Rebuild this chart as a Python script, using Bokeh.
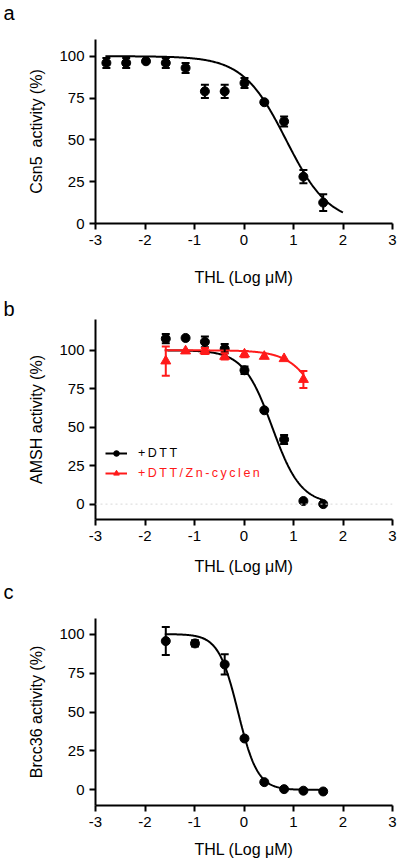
import numpy as np
from bokeh.plotting import figure
from bokeh.models import (FixedTicker, Whisker, TeeHead, ColumnDataSource, Span,
                          Legend, LegendItem, Range1d, Title)
from bokeh.layouts import column
from bokeh.embed import file_html
from bokeh.resources import INLINE

FONT = "Liberation Sans"
RED = "#ff1a1a"

# ---------------- data ----------------
x_ticks = [-3, -2, -1, 0, 1, 2, 3]
x_tick_labels = ["-3", "-2", "-1", "0", "1", "2", "3"]
y_ticks = [0, 25, 50, 75, 100]
x_label = "THL (Log μM)"

# Panel a : Csn5
a_x = [-2.78, -2.38, -1.98, -1.58, -1.18, -0.79, -0.39, 0.01, 0.41, 0.81, 1.20, 1.60]
a_y = [96, 96, 97, 96, 93, 79, 79, 84, 72.5, 61, 28, 12.5]
a_err = [3, 3, 0, 3, 3, 4, 4, 3, 0, 3, 4, 5]
# fitted 4-parameter logistic curve (top, bottom, logIC50, hill, x-from, x-to)
a_fit = [100, 0, 0.85, 1.0, -2.8, 2.0]

# Panel b : AMSH
b_dtt_x = [-1.58, -1.18, -0.79, -0.39, 0.01, 0.41, 0.81, 1.20, 1.60]
b_dtt_y = [107.5, 108, 105.5, 101, 87, 61, 42, 2, 0]
b_dtt_err = [3, 0, 3.5, 3, 2.5, 0, 3, 0, 0]
b_dtt_fit = [100, 0, 0.57, 1.5, -1.6, 1.6]

b_zn_x = [-1.58, -1.18, -0.79, -0.39, 0.01, 0.41, 0.81, 1.20]
b_zn_y = [93, 99.5, 99.5, 96, 97.5, 96, 94.5, 81]
b_zn_err = [9.5, 0, 2, 2, 2, 0, 0, 5.5]
b_zn_fit = [100, 0, 1.76, 1.29, -1.6, 1.2]

# Panel c : Brcc36
c_x = [-1.58, -0.99, -0.39, 0.01, 0.41, 0.81, 1.20, 1.60]
c_y = [95.5, 94, 80.5, 33, 5, 0.5, -0.5, -1]
c_err = [9, 2, 6.5, 0, 0, 0, 0, 0]
c_fit = [100, 0, -0.12, 2.2, -1.6, 1.6]


def logistic_curve(fit):
    top, bottom, logic50, hill, x0, x1 = fit
    xs = np.linspace(x0, x1, 300)
    ys = bottom + (top - bottom) / (1 + 10 ** ((xs - logic50) * hill))
    return xs, ys


def make_fig(height, btop, bbottom, yr, ylabel, letter, spacer, valign, xlab_standoff):
    p = figure(width=400, height=height, x_range=Range1d(-3, 3), y_range=Range1d(*yr),
               output_backend="svg", toolbar_location=None,
               min_border_left=95, min_border_right=8,
               min_border_top=btop, min_border_bottom=bbottom)
    p.title.text = ""
    # invisible spacer (closest to the frame) then the panel letter
    if spacer > 0:
        p.add_layout(Title(text=" ", text_font_size="1px", standoff=spacer), "above")
    p.add_layout(Title(text=letter, align="left", offset=-92, standoff=0,
                       vertical_align=valign, text_font=FONT, text_font_size="20px",
                       text_font_style="normal", text_color="black"), "above")
    p.outline_line_color = None
    p.grid.visible = False
    p.background_fill_color = "white"
    p.border_fill_color = "white"
    p.xaxis.ticker = FixedTicker(ticks=x_ticks)
    p.xaxis.major_label_overrides = {t: s for t, s in zip(x_ticks, x_tick_labels)}
    p.yaxis.ticker = FixedTicker(ticks=y_ticks)
    for ax in (p.xaxis[0], p.yaxis[0]):
        ax.axis_line_width = 2
        ax.axis_line_color = "black"
        ax.major_tick_line_width = 2
        ax.major_tick_line_color = "black"
        ax.major_tick_out = 6
        ax.major_tick_in = 0
        ax.minor_tick_line_color = None
        ax.major_label_text_font = FONT
        ax.major_label_text_font_size = "15px"
        ax.major_label_text_color = "black"
        ax.axis_label_text_font = FONT
        ax.axis_label_text_font_size = "16px"
        ax.axis_label_text_font_style = "normal"
        ax.axis_label_text_color = "black"
    p.xaxis.major_label_standoff = 5
    p.yaxis.major_label_standoff = 5
    p.xaxis.axis_label = x_label
    p.xaxis.axis_label_standoff = xlab_standoff
    p.yaxis.axis_label = ylabel
    p.yaxis.axis_label_standoff = 11
    return p


def add_series(p, xs, ys, errs, fit, color, marker):
    cx, cy = logistic_curve(fit)
    line = p.line(cx, cy, line_color=color, line_width=2)
    ex = [x for x, e in zip(xs, errs) if e > 0]
    ey = [y for y, e in zip(ys, errs) if e > 0]
    ee = [e for e in errs if e > 0]
    src = ColumnDataSource(dict(base=ex, upper=[y + e for y, e in zip(ey, ee)],
                                lower=[y - e for y, e in zip(ey, ee)]))
    w = Whisker(base="base", upper="upper", lower="lower", source=src,
                line_color=color, line_width=2,
                upper_head=TeeHead(size=8, line_width=2, line_color=color),
                lower_head=TeeHead(size=8, line_width=2, line_color=color))
    w.level = "glyph"
    p.add_layout(w)
    sc = p.scatter(xs, ys, marker=marker, size=9 if marker == "circle" else 10,
                   fill_color=color, line_color=color)
    return line, sc


# ---------------- panel a ----------------
pa = make_fig(290, 39, 67, (0, 110), "Csn5\u00a0 activity (%)", "a", 11, "top", 21)
add_series(pa, a_x, a_y, a_err, a_fit, "black", "circle")

# ---------------- panel b ----------------
pb = make_fig(289, 29, 60, (-10, 120), "AMSH activity (%)", "b", 0, "bottom", 14)
pb.add_layout(Span(location=0, dimension="width", line_color="#d8d8d8",
                   line_dash="2 3", line_width=1))
l1, s1 = add_series(pb, b_dtt_x, b_dtt_y, b_dtt_err, b_dtt_fit, "black", "circle")
l2, s2 = add_series(pb, b_zn_x, b_zn_y, b_zn_err, b_zn_fit, RED, "triangle")
for label, rends, col, loc in [("+\u2009D\u2009T\u2009T", [l1, s1], "black", (10, 59)),
                               ("+\u2009D\u2009T\u2009T\u2009/\u2009Z\u2009n\u2009-\u2009c\u2009y\u2009c\u2009l\u2009e\u2009n",
                                [l2, s2], RED, (10, 39))]:
    lg = Legend(items=[LegendItem(label=label, renderers=rends)], location=loc,
                padding=0, margin=0, spacing=0, border_line_alpha=0,
                background_fill_alpha=0, glyph_width=22, glyph_height=14,
                label_height=14, label_standoff=11, label_text_font=FONT,
                label_text_font_size="12.5px", label_text_color=col)
    pb.add_layout(lg)

# ---------------- panel c ----------------
pc = make_fig(283, 39, 57, (-10, 110), "Brcc36 activity (%)", "c", 11, "top", 11)
add_series(pc, c_x, c_y, c_err, c_fit, "black", "circle")

layout = column(pa, pb, pc, spacing=0)
open("out.html", "w").write(file_html(layout, INLINE))
